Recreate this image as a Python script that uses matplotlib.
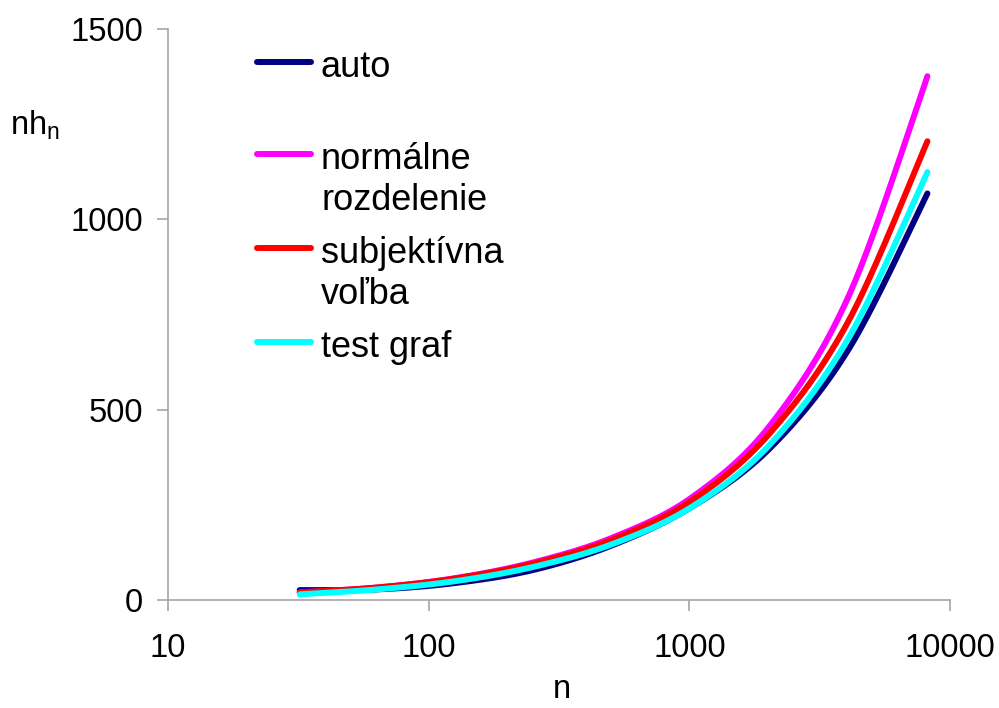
import numpy as np
import matplotlib
matplotlib.use("Agg")
import matplotlib.pyplot as plt

plt.rcParams['font.family'] = ['Liberation Sans', 'DejaVu Sans']

n = [32, 64, 128, 256, 512, 1024, 2048, 4096, 8192]
auto = [26, 28, 45, 80, 145, 245, 400, 660, 1068]
normalne = [20, 33, 58, 100, 165, 270, 460, 800, 1376]
subjektivna = [20, 33, 57, 97, 160, 262, 440, 735, 1205]
test_graf = [15, 28, 50, 88, 148, 245, 410, 690, 1124]

labels = ['auto', 'normálne\nrozdelenie', 'subjektívna\nvoľba', 'test graf']
colors = ['#000080', '#FF00FF', '#FF0000', '#00FFFF']
series = [auto, normalne, subjektivna, test_graf]


def smooth(xs, ys, steps=30):
    # bezier smoothing in (log10 x, y), same as a spreadsheet "smoothed line"
    lx = np.log10(xs)
    y = np.asarray(ys, dtype=float)
    pts = np.column_stack([lx, y])
    out = []
    m = len(pts)
    for i in range(m - 1):
        p0 = pts[max(i - 1, 0)]
        p1 = pts[i]
        p2 = pts[i + 1]
        p3 = pts[min(i + 2, m - 1)]
        c1 = p1 + (p2 - p0) / 6
        c2 = p2 - (p3 - p1) / 6
        t = np.linspace(0, 1, steps, endpoint=(i == m - 2))[:, None]
        seg = ((1 - t) ** 3) * p1 + 3 * ((1 - t) ** 2) * t * c1 \
            + 3 * (1 - t) * t ** 2 * c2 + t ** 3 * p2
        out.append(seg)
    out = np.vstack(out)
    return 10 ** out[:, 0], out[:, 1]


fig = plt.figure(figsize=(9.99, 7.08), dpi=100)
ax = fig.add_axes([168 / 999, 1 - 600 / 708, (950 - 168) / 999, (600 - 29) / 708])

for ys, c in zip(series, colors):
    sx, sy = smooth(n, ys)
    ax.plot(sx, sy, color=c, lw=4.3, solid_capstyle='round')

ax.set_xscale('log')
ax.set_xlim(10, 10000)
ax.set_ylim(0, 1500)
ax.set_xticks([10, 100, 1000, 10000])
ax.set_xticklabels(['10', '100', '1000', '10000'])
ax.xaxis.set_minor_locator(matplotlib.ticker.NullLocator())
ax.set_yticks([0, 500, 1000, 1500])

for s in ['top', 'right']:
    ax.spines[s].set_visible(False)
for s in ['left', 'bottom']:
    ax.spines[s].set_color('#a6a6a6')
    ax.spines[s].set_linewidth(1.2)
ax.tick_params(axis='both', colors='#a6a6a6', length=8, width=1.2,
               labelcolor='black', labelsize=23.5)
ax.tick_params(axis='x', pad=16)
ax.tick_params(axis='y', pad=10)

fig.text(562 / 999, 1 - 690 / 708, 'n', fontsize=23.5, ha='center', va='center')
fig.text(35 / 999, 1 - 125 / 708, 'nh$_\\mathregular{n}$', fontsize=23.5,
         ha='center', va='center')

# legend drawn by hand so multi-line labels keep the line at the first row
leg_y = [62, 154, 248, 342]
for lab, c, yy in zip(labels, colors, leg_y):
    yf = 1 - yy / 708
    fig.add_artist(plt.Line2D([257 / 999, 311 / 999], [yf, yf], color=c,
                              lw=4.3, solid_capstyle='round'))
    fig.text(321 / 999, yf + 12 / 708, lab, fontsize=26, ha='left', va='top',
             linespacing=1.22)

fig.savefig('out.png', dpi=100)
